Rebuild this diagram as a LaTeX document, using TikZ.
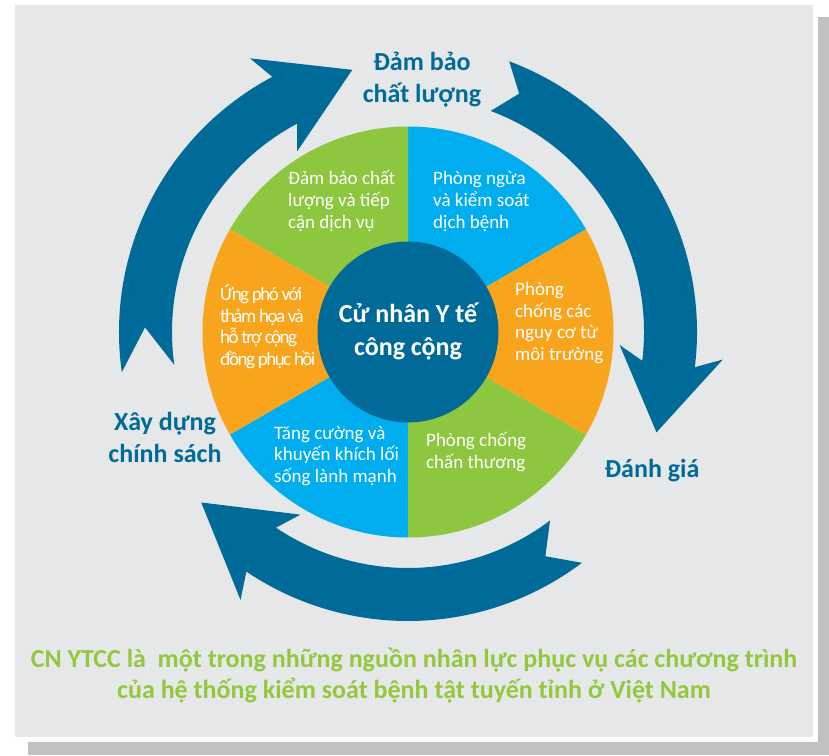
\documentclass[tikz,border=0pt]{standalone}
\usepackage{fontspec}
\setmainfont{Carlito}
\usetikzlibrary{positioning}
\definecolor{hubblue}{HTML}{006B99}
\definecolor{skyblue}{HTML}{00AEEF}
\definecolor{leafgreen}{HTML}{8DC63F}
\definecolor{sunorange}{HTML}{F8A51D}
\definecolor{panelgray}{HTML}{E6E7E8}
\definecolor{shadowgray}{HTML}{C1C1C1}
\definecolor{captiongreen}{HTML}{93C83E}
\tikzset{x=1pt, y=1pt, % one unit is one pixel of the reference
      arrowband/.style={fill=hubblue}, % the three curved arrows
      sectorlabel/.style={ % white text in the coloured wheel
      text=white, align=left, anchor=base west, inner sep=0pt,
      font=\fontsize{19}{21.5}\selectfont},
      stagelabel/.style={ % the steps of the cycle
      text=hubblue, align=center, anchor=base, inner sep=0pt,
      font=\bfseries\fontsize{26}{32}\selectfont},
      hub/.style={circle, fill=hubblue, minimum size=181pt, inner sep=0pt,
      text=white, align=center, font=\bfseries\fontsize{26}{33}\selectfont}}

\begin{document}
\begin{tikzpicture}
      \useasboundingbox (-408,-423) rectangle (421,332);
      % panel and its shadow
      \fill[shadowgray] (-380,315) rectangle (421,-423);
      \fill[white] (-398,332) rectangle (410,-410);
      \fill[panelgray] (-393,327) rectangle (405,-405);
      % arrows
      \fill[arrowband] (188:289) arc[start angle=188, end angle=118, radius=289pt] -- (120:316) -- (102:268) -- (121.5:212) -- (118:236) arc[start angle=118, end angle=188, radius=236pt] -- (179:263) -- cycle;
      \fill[arrowband] (69.5:289) arc[start angle=69.5, end angle=-7, radius=289pt] -- (-5:316) -- (-22:268) -- (-3.5:212) -- (-7:236) arc[start angle=-7, end angle=69.5, radius=236pt] -- (65:263) -- cycle;
      \fill[arrowband] (-53:289) arc[start angle=-53, end angle=-124, radius=289pt] -- (-122:316) -- (-140.5:268) -- (-120.5:212) -- (-124:236) arc[start angle=-124, end angle=-53, radius=236pt] -- (-58.5:263) -- cycle;
      % wheel
      \fill[skyblue] (0,0) -- (30:205.5) arc[start angle=30, end angle=90, radius=205.5pt] -- cycle;
      \fill[leafgreen] (0,0) -- (90:205.5) arc[start angle=90, end angle=150, radius=205.5pt] -- cycle;
      \fill[sunorange] (0,0) -- (150:205.5) arc[start angle=150, end angle=210, radius=205.5pt] -- cycle;
      \fill[skyblue] (0,0) -- (210:205.5) arc[start angle=210, end angle=270, radius=205.5pt] -- cycle;
      \fill[leafgreen] (0,0) -- (270:205.5) arc[start angle=270, end angle=330, radius=205.5pt] -- cycle;
      \fill[sunorange] (0,0) -- (330:205.5) arc[start angle=330, end angle=390, radius=205.5pt] -- cycle;
      \node[hub] (hub) at (0,0) {Cử nhân Y tế\\công cộng};
      % base of a label is its last line
      \node[sectorlabel] (care) at (-120,104) {Đảm bảo chất\\lượng và tiếp\\cận dịch vụ};
      \node[sectorlabel] (disease) at (25,104) {Phòng ngừa\\và kiểm soát\\dịch bệnh};
      \node[sectorlabel] (environ) at (107,-28) {Phòng\\chống các\\nguy cơ từ\\môi trường};
      \node[sectorlabel] (injury) at (18,-136) {Phòng chống\\chấn thương};
      \node[sectorlabel] (lifestyle) at (-134,-150) {Tăng cường và\\khuyến khích lối\\sống lành mạnh};
      \node[sectorlabel, font=\addfontfeatures{LetterSpace=-8}\fontsize{19}{21.5}\selectfont] (disaster) at (-188,-33) {Ứng phó với\\thảm họa và\\hỗ trợ cộng\\đồng phục hồi};
      % steps of the cycle
      \node[stagelabel] (quality) at (14,229) {Đảm bảo\\chất lượng};
      \node[stagelabel] (policy) at (-243,-130) {Xây dựng\\chính sách};
      \node[stagelabel] (review) at (244,-145) {Đánh giá};
      \node[stagelabel, text=captiongreen, font=\bfseries\fontsize{26}{31}\selectfont] (caption) at (6,-366) {CN YTCC là\ \ một trong những nguồn nhân lực phục vụ các chương trình\\của hệ thống kiểm soát bệnh tật tuyến tỉnh ở Việt Nam};
\end{tikzpicture}
\end{document}
